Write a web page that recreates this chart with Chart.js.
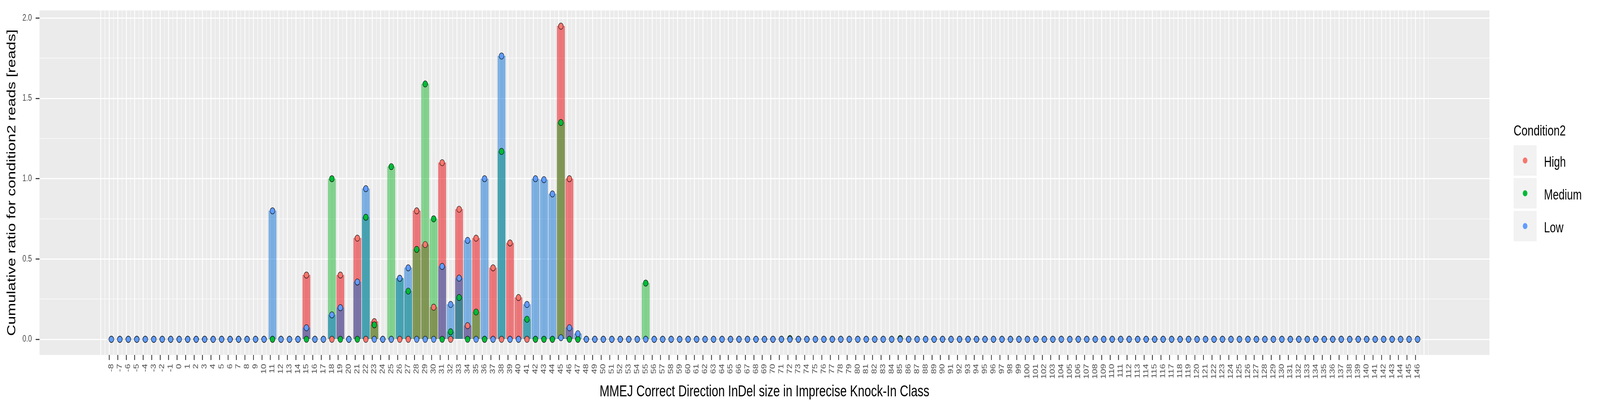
<!DOCTYPE html>
<html>
<head>
<meta charset="utf-8">
<script src="https://cdn.jsdelivr.net/npm/chart.js@4.4.1/dist/chart.umd.min.js"></script>
<style>
  html, body { margin: 0; padding: 0; background: #fff; overflow: hidden; }
  /* the chart is drawn on a 5425 x 1050 canvas and fitted to the window */
  #chart { display: block; width: 100vw !important; height: 100vh !important; }
</style>
</head>
<body>
<canvas id="chart" width="5425" height="1050"></canvas>
<script>
// InDel sizes on the x axis
const sizes = [
  -8, -7, -6, -5, -4, -3, -2, -1, 0, 1,
  2, 3, 4, 5, 6, 7, 8, 9, 10, 11,
  12, 13, 14, 15, 16, 17, 18, 19, 20, 21,
  22, 23, 24, 25, 26, 27, 28, 29, 30, 31,
  32, 33, 34, 35, 36, 37, 38, 39, 40, 41,
  42, 43, 44, 45, 46, 47, 48, 49, 50, 51,
  52, 53, 54, 55, 56, 57, 58, 59, 60, 61,
  62, 63, 64, 65, 66, 67, 68, 69, 70, 71,
  72, 73, 74, 75, 76, 77, 78, 79, 80, 81,
  82, 83, 84, 85, 86, 87, 88, 89, 90, 91,
  92, 93, 94, 95, 96, 97, 98, 99, 100, 101,
  102, 103, 104, 105, 106, 107, 108, 109, 110, 111,
  112, 113, 114, 115, 116, 117, 118, 119, 120, 121,
  122, 123, 124, 125, 126, 127, 128, 129, 130, 131,
  132, 133, 134, 135, 136, 137, 138, 139, 140, 141,
  142, 143, 144, 145, 146
];

const high = [
  0, 0, 0, 0, 0, 0, 0, 0, 0, 0,
  0, 0, 0, 0, 0, 0, 0, 0, 0, 0,
  0, 0, 0, 0.40, 0, 0, 0, 0.40, 0, 0.63,
  0, 0.11, 0, 0, 0, 0, 0.80, 0.59, 0.20, 1.10,
  0, 0.81, 0.085, 0.63, 0, 0.445, 0, 0.60, 0.26, 0,
  0, 0, 0, 1.95, 1.00, 0, 0, 0, 0, 0,
  0, 0, 0, 0, 0, 0, 0, 0, 0, 0,
  0, 0, 0, 0, 0, 0, 0, 0, 0, 0,
  0, 0, 0, 0, 0, 0, 0, 0, 0, 0,
  0, 0, 0, 0, 0, 0, 0, 0, 0, 0,
  0, 0, 0, 0, 0, 0, 0, 0, 0, 0,
  0, 0, 0, 0, 0, 0, 0, 0, 0, 0,
  0, 0, 0, 0, 0, 0, 0, 0, 0, 0,
  0, 0, 0, 0, 0, 0, 0, 0, 0, 0,
  0, 0, 0, 0, 0, 0, 0, 0, 0, 0,
  0, 0, 0, 0, 0
];

const medium = [
  0, 0, 0, 0, 0, 0, 0, 0, 0, 0,
  0, 0, 0, 0, 0, 0, 0, 0, 0, 0,
  0, 0, 0, 0, 0, 0, 1.00, 0, 0, 0,
  0.76, 0.09, 0, 1.075, 0.38, 0.30, 0.56, 1.59, 0.75, 0,
  0.047, 0.26, 0, 0.17, 0, 0, 1.17, 0, 0, 0.125,
  0, 0, 0, 1.35, 0, 0, 0, 0, 0, 0,
  0, 0, 0, 0.35, 0, 0, 0, 0, 0, 0,
  0, 0, 0, 0, 0, 0, 0, 0, 0, 0,
  0.005, 0, 0, 0, 0, 0, 0, 0, 0, 0,
  0, 0, 0, 0.005, 0, 0, 0, 0, 0, 0,
  0, 0, 0, 0, 0, 0, 0, 0, 0, 0,
  0, 0, 0, 0, 0, 0, 0, 0, 0, 0,
  0, 0, 0, 0, 0, 0, 0, 0, 0, 0,
  0, 0, 0, 0, 0, 0, 0, 0, 0, 0,
  0, 0, 0, 0, 0, 0, 0, 0, 0, 0,
  0, 0, 0, 0, 0
];

const low = [
  0, 0, 0, 0, 0, 0, 0, 0, 0, 0,
  0, 0, 0, 0, 0, 0, 0, 0, 0, 0.80,
  0, 0, 0, 0.072, 0, 0, 0.152, 0.197, 0, 0.357,
  0.938, 0, 0, 0, 0.38, 0.445, 0, 0, 0, 0.454,
  0.217, 0.381, 0.616, 0, 1.00, 0, 1.764, 0, 0, 0.217,
  1.00, 0.994, 0.905, 0.01, 0.072, 0.035, 0, 0, 0, 0,
  0, 0, 0, 0, 0, 0, 0, 0, 0, 0,
  0, 0, 0, 0, 0, 0, 0, 0, 0, 0,
  0, 0, 0, 0, 0, 0, 0, 0, 0, 0,
  0, 0, 0, 0, 0, 0, 0, 0, 0, 0,
  0, 0, 0, 0, 0, 0, 0, 0, 0, 0,
  0, 0, 0, 0, 0, 0, 0, 0, 0, 0,
  0, 0, 0, 0, 0, 0, 0, 0, 0, 0,
  0, 0, 0, 0, 0, 0, 0, 0, 0, 0,
  0, 0, 0, 0, 0, 0, 0, 0, 0, 0,
  0, 0, 0, 0, 0
];

const conditions = ["High", "Medium", "Low"];
const yTicks = [0, 0.25, 0.5, 0.75, 1, 1.25, 1.5, 1.75, 2];

const series = [high, medium, low];
const pointColors = ["#F8766D", "#00BA38", "#619CFF"];
const barColors = ["rgba(231,0,5,0.5)", "rgba(21,181,45,0.5)", "rgba(10,112,212,0.5)"];
const FONT = '"Liberation Sans", Arial, Helvetica, sans-serif';

Chart.defaults.font.family = FONT;

// grid positions: each size plus the midpoints, one step past both ends
const labelSet = new Set(sizes);
const xTicks = [sizes[0] - 1];
sizes.forEach(s => xTicks.push(s - 0.5, s));
xTicks.push(sizes[sizes.length - 1] + 0.5, sizes[sizes.length - 1] + 1);

const tickVal = ctx => (ctx && ctx.tick) ? ctx.tick.value : null;
const isYMajor = v => v !== null && Math.abs(v * 2 - Math.round(v * 2)) < 1e-9;

const datasets = [];
conditions.forEach((c, i) => {
  datasets.push({
    type: "bar",
    label: c,
    data: sizes.map((s, j) => ({ x: s, y: series[i][j] })),
    backgroundColor: barColors[i],
    borderWidth: 0,
    barThickness: 26,
    grouped: false,
    order: 6 - i
  });
});
conditions.forEach((c, i) => {
  datasets.push({
    type: "line",
    label: c,
    data: sizes.map((s, j) => ({ x: s, y: series[i][j] })),
    showLine: false,
    pointRadius: 8,
    pointBackgroundColor: pointColors[i],
    pointBorderColor: "#000",
    pointBorderWidth: 1.2,
    order: 3 - i
  });
});

const panelBg = {
  id: "panelBg",
  beforeDraw(chart) {
    const a = chart.chartArea;
    const ctx = chart.ctx;
    ctx.save();
    ctx.fillStyle = "#EBEBEB";
    ctx.fillRect(a.left, a.top, a.right - a.left, a.bottom - a.top);
    ctx.restore();
  }
};

const ggLegend = {
  id: "ggLegend",
  afterDraw(chart) {
    const ctx = chart.ctx;
    const left = chart.chartArea.right + 82;
    ctx.save();
    ctx.fillStyle = "#000";
    ctx.font = "37px " + FONT;
    ctx.textBaseline = "alphabetic";
    ctx.fillText("Condition2", left, 347);
    conditions.forEach((c, i) => {
      const top = 372 + i * 84;
      ctx.fillStyle = "#F2F2F2";
      ctx.fillRect(left, top, 78, 78);
      ctx.beginPath();
      ctx.arc(left + 39, top + 39, 7.8, 0, Math.PI * 2);
      ctx.fillStyle = pointColors[i];
      ctx.fill();
      ctx.fillStyle = "#000";
      ctx.font = "36px " + FONT;
      ctx.fillText(c, left + 103, top + 55);
    });
    ctx.restore();
  }
};

new Chart(document.getElementById("chart"), {
  data: { datasets },
  plugins: [panelBg, ggLegend],
  options: {
    responsive: false,
    devicePixelRatio: 1,
    animation: false,
    events: [],
    layout: { padding: { top: 26, right: 375, left: 0, bottom: 0 } },
    plugins: { legend: { display: false }, tooltip: { enabled: false } },
    scales: {
      x: {
        type: "linear",
        min: -16.195,
        max: 154.195,
        afterBuildTicks: s => { s.ticks = xTicks.map(v => ({ value: v })); },
        afterFit: s => { s.height = 141; },
        border: { display: false },
        grid: {
          color: "#FFFFFF",
          lineWidth: ctx => {
            const v = tickVal(ctx);
            return (v !== null && Number.isInteger(v)) ? 2.7 : 1.35;
          },
          tickColor: ctx => labelSet.has(tickVal(ctx)) ? "#333333" : "rgba(0,0,0,0)",
          tickWidth: 2.7,
          tickLength: 13
        },
        ticks: {
          autoSkip: false,
          minRotation: 90,
          maxRotation: 90,
          padding: 10,
          color: "#4D4D4D",
          font: { size: 23 },
          callback: v => labelSet.has(v) ? String(v) : ""
        },
        title: {
          display: true,
          text: "MMEJ Correct Direction InDel size in Imprecise Knock-In Class",
          color: "#000",
          font: { size: 40 },
          padding: { top: 0, bottom: 22 }
        }
      },
      y: {
        type: "linear",
        min: -0.0975,
        max: 2.0475,
        afterBuildTicks: s => { s.ticks = yTicks.map(v => ({ value: v })); },
        afterFit: s => { s.width = 134; },
        border: { display: false },
        grid: {
          color: "#FFFFFF",
          lineWidth: ctx => isYMajor(tickVal(ctx)) ? 2.7 : 1.35,
          tickColor: ctx => isYMajor(tickVal(ctx)) ? "#333333" : "rgba(0,0,0,0)",
          tickWidth: 2.7,
          tickLength: 13
        },
        ticks: {
          padding: 13,
          color: "#4D4D4D",
          font: { size: 23 },
          callback: v => isYMajor(v) ? v.toFixed(1) : ""
        },
        title: {
          display: true,
          text: "Cumulative ratio for condition2 reads [reads]",
          color: "#000",
          font: { size: 40 },
          padding: { top: 17, bottom: 0 }
        }
      }
    }
  }
});
</script>
</body>
</html>
